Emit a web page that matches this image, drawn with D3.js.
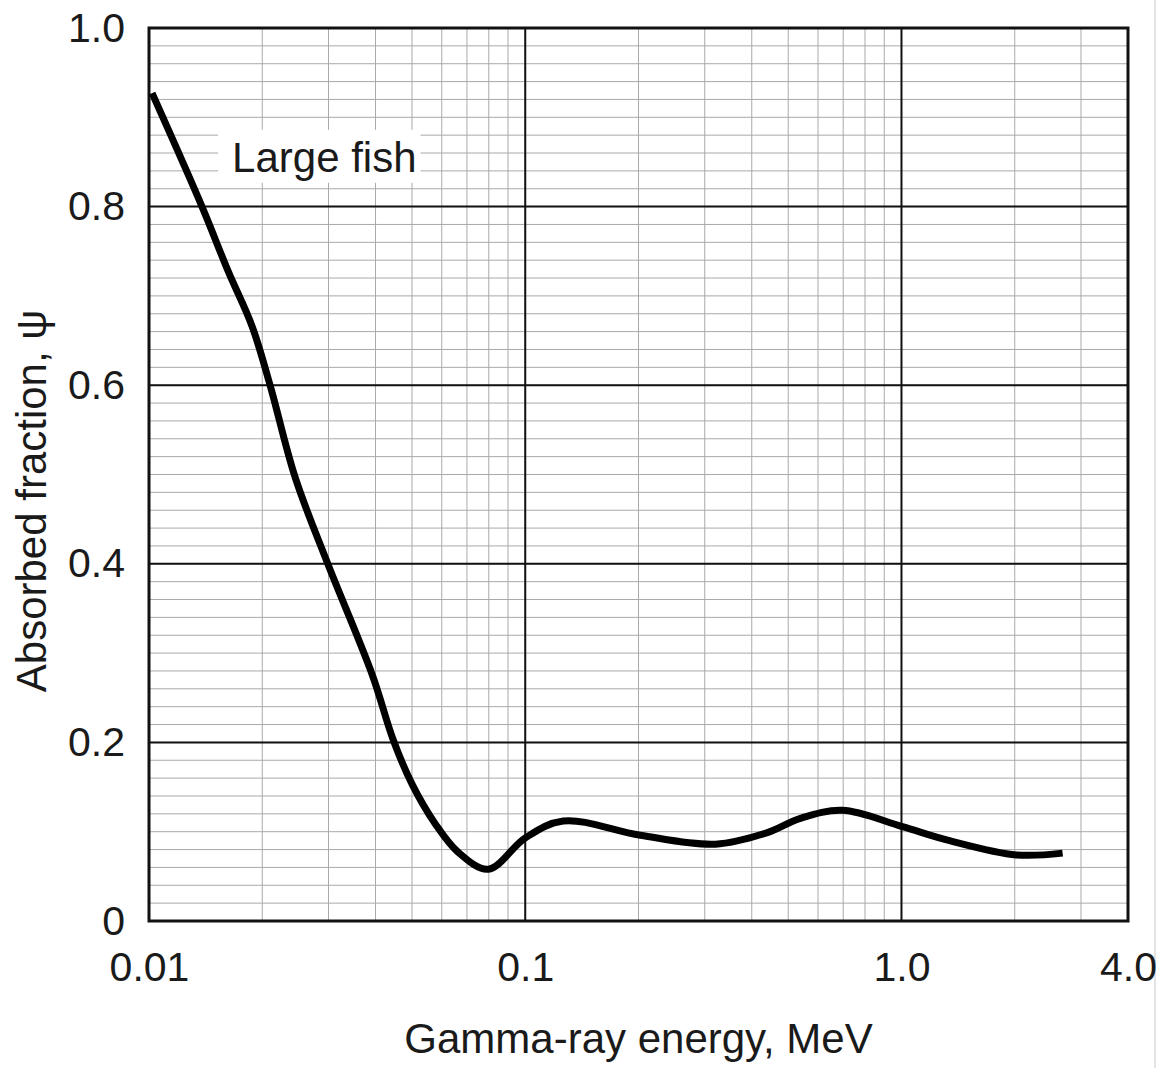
<!DOCTYPE html>
<html>
<head>
<meta charset="utf-8">
<script src="https://cdn.jsdelivr.net/npm/d3@7"></script>
<style>
    body { margin: 0; background: #fff; }
    text { font-family: "Liberation Sans", Arial, Helvetica, sans-serif; fill: #1a1a1a; }
</style>
</head>
<body>
<div id="chart"></div>
<script>
// Data: energy (MeV) and absorbed fraction
var energy = [0.01019, 0.01383, 0.01622, 0.01879, 0.02098, 0.02445, 0.02974, 0.03918,
    0.04456, 0.05006, 0.05762, 0.06635, 0.07973, 0.1, 0.1262, 0.2023, 0.3201,
    0.4401, 0.5387, 0.6968, 1.0, 1.342, 2.023, 2.681];
var fraction = [0.927, 0.800, 0.728, 0.666, 0.600, 0.497, 0.402, 0.276,
    0.203, 0.153, 0.109, 0.077, 0.058, 0.093, 0.112, 0.096, 0.086,
    0.099, 0.115, 0.124, 0.106, 0.090, 0.074, 0.076];

// Tick labels
var xTicks = [0.01, 0.1, 1.0, 4.0];
var xTickLabels = ["0.01", "0.1", "1.0", "4.0"];
var yTicks = [0, 0.2, 0.4, 0.6, 0.8, 1.0];
var yTickLabels = ["0", "0.2", "0.4", "0.6", "0.8", "1.0"];

// Curve label, anchored in data units
var labelText = "Large fish";
var labelAt = [0.01663, 0.839];

// Sizes
var svgWidth = 1167;
var svgHeight = 1068;
var margins = {top: 28, right: 39, bottom: 147, left: 149};
var width = svgWidth - margins.left - margins.right;
var height = svgHeight - margins.top - margins.bottom;

var svg = d3.select("#chart")
    .append("svg")
        .attr("width", svgWidth)
        .attr("height", svgHeight);

// page border line seen on the right of the original scan
svg.append("line")
    .attr("x1", 1155).attr("x2", 1155)
    .attr("y1", 0).attr("y2", svgHeight)
    .attr("stroke", "#c8c8c8")
    .attr("stroke-width", 1);

var g = svg.append("g")
    .attr("transform", "translate(" + margins.left + "," + margins.top + ")");

// Scales
var x = d3.scaleLog()
    .domain([0.01, 4.0])
    .range([0, width]);
var y = d3.scaleLinear()
    .domain([0, 1.0])
    .range([height, 0]);

// Minor grid
var xMinor = x.ticks().filter(d => x(d) > 0.5 && x(d) < width - 0.5);
var yMinor = d3.range(1, 50).map(i => i * 0.02);

g.append("g")
    .selectAll("line")
    .data(yMinor)
    .join("line")
        .attr("x1", 0).attr("x2", width)
        .attr("y1", d => y(d)).attr("y2", d => y(d))
        .attr("stroke", "#a9a9a9")
        .attr("stroke-width", 1);

g.append("g")
    .selectAll("line")
    .data(xMinor)
    .join("line")
        .attr("x1", d => x(d)).attr("x2", d => x(d))
        .attr("y1", 0).attr("y2", height)
        .attr("stroke", "#a9a9a9")
        .attr("stroke-width", 1);

// Major grid
g.append("g")
    .selectAll("line")
    .data(yTicks.slice(1, -1))
    .join("line")
        .attr("x1", 0).attr("x2", width)
        .attr("y1", d => y(d)).attr("y2", d => y(d))
        .attr("stroke", "#111")
        .attr("stroke-width", 2);

g.append("g")
    .selectAll("line")
    .data([0.1, 1.0])
    .join("line")
        .attr("x1", d => x(d)).attr("x2", d => x(d))
        .attr("y1", 0).attr("y2", height)
        .attr("stroke", "#111")
        .attr("stroke-width", 2);

// White box behind the curve label
var label = g.append("text")
    .attr("x", x(labelAt[0]))
    .attr("y", y(labelAt[1]))
    .attr("font-size", 42)
    .text(labelText);
var bb = label.node().getBBox();
g.insert("rect", "text")
    .attr("x", bb.x - 14)
    .attr("y", bb.y - 4)
    .attr("width", bb.width + 18)
    .attr("height", bb.height + 6)
    .attr("fill", "#fff");

// Frame
g.append("rect")
    .attr("width", width)
    .attr("height", height)
    .attr("fill", "none")
    .attr("stroke", "#111")
    .attr("stroke-width", 3);

// Curve
var points = energy.map((e, i) => ({e: e, v: fraction[i]}));
var line = d3.line()
    .x(d => x(d.e))
    .y(d => y(d.v))
    .curve(d3.curveCatmullRom.alpha(0.5));

g.append("path")
    .attr("d", line(points))
    .attr("fill", "none")
    .attr("stroke", "#000")
    .attr("stroke-width", 7)
    .attr("stroke-linejoin", "round")
    .attr("stroke-linecap", "butt");

// Axes labels (tick text only, grid does the rest)
var xAxis = d3.axisBottom(x)
    .tickValues(xTicks)
    .tickSize(0)
    .tickPadding(31)
    .tickFormat((d, i) => xTickLabels[i]);
var xa = g.append("g")
    .attr("transform", "translate(0," + height + ")")
    .call(xAxis);
xa.select(".domain").remove();
xa.selectAll("text").attr("font-size", 41).attr("font-family", null);

var yAxis = d3.axisLeft(y)
    .tickValues(yTicks)
    .tickSize(0)
    .tickPadding(24)
    .tickFormat((d, i) => yTickLabels[i]);
var ya = g.append("g").call(yAxis);
ya.select(".domain").remove();
ya.selectAll("text").attr("font-size", 41).attr("font-family", null);

// Axis titles
svg.append("text")
    .attr("x", margins.left + width / 2)
    .attr("y", 1053)
    .attr("text-anchor", "middle")
    .attr("font-size", 42)
    .text("Gamma-ray energy, MeV");

svg.append("text")
    .attr("transform", "translate(46," + 501 + ") rotate(-90)")
    .attr("text-anchor", "middle")
    .attr("font-size", 42)
    .text("Absorbed fraction, \u03c8");
</script>
</body>
</html>
